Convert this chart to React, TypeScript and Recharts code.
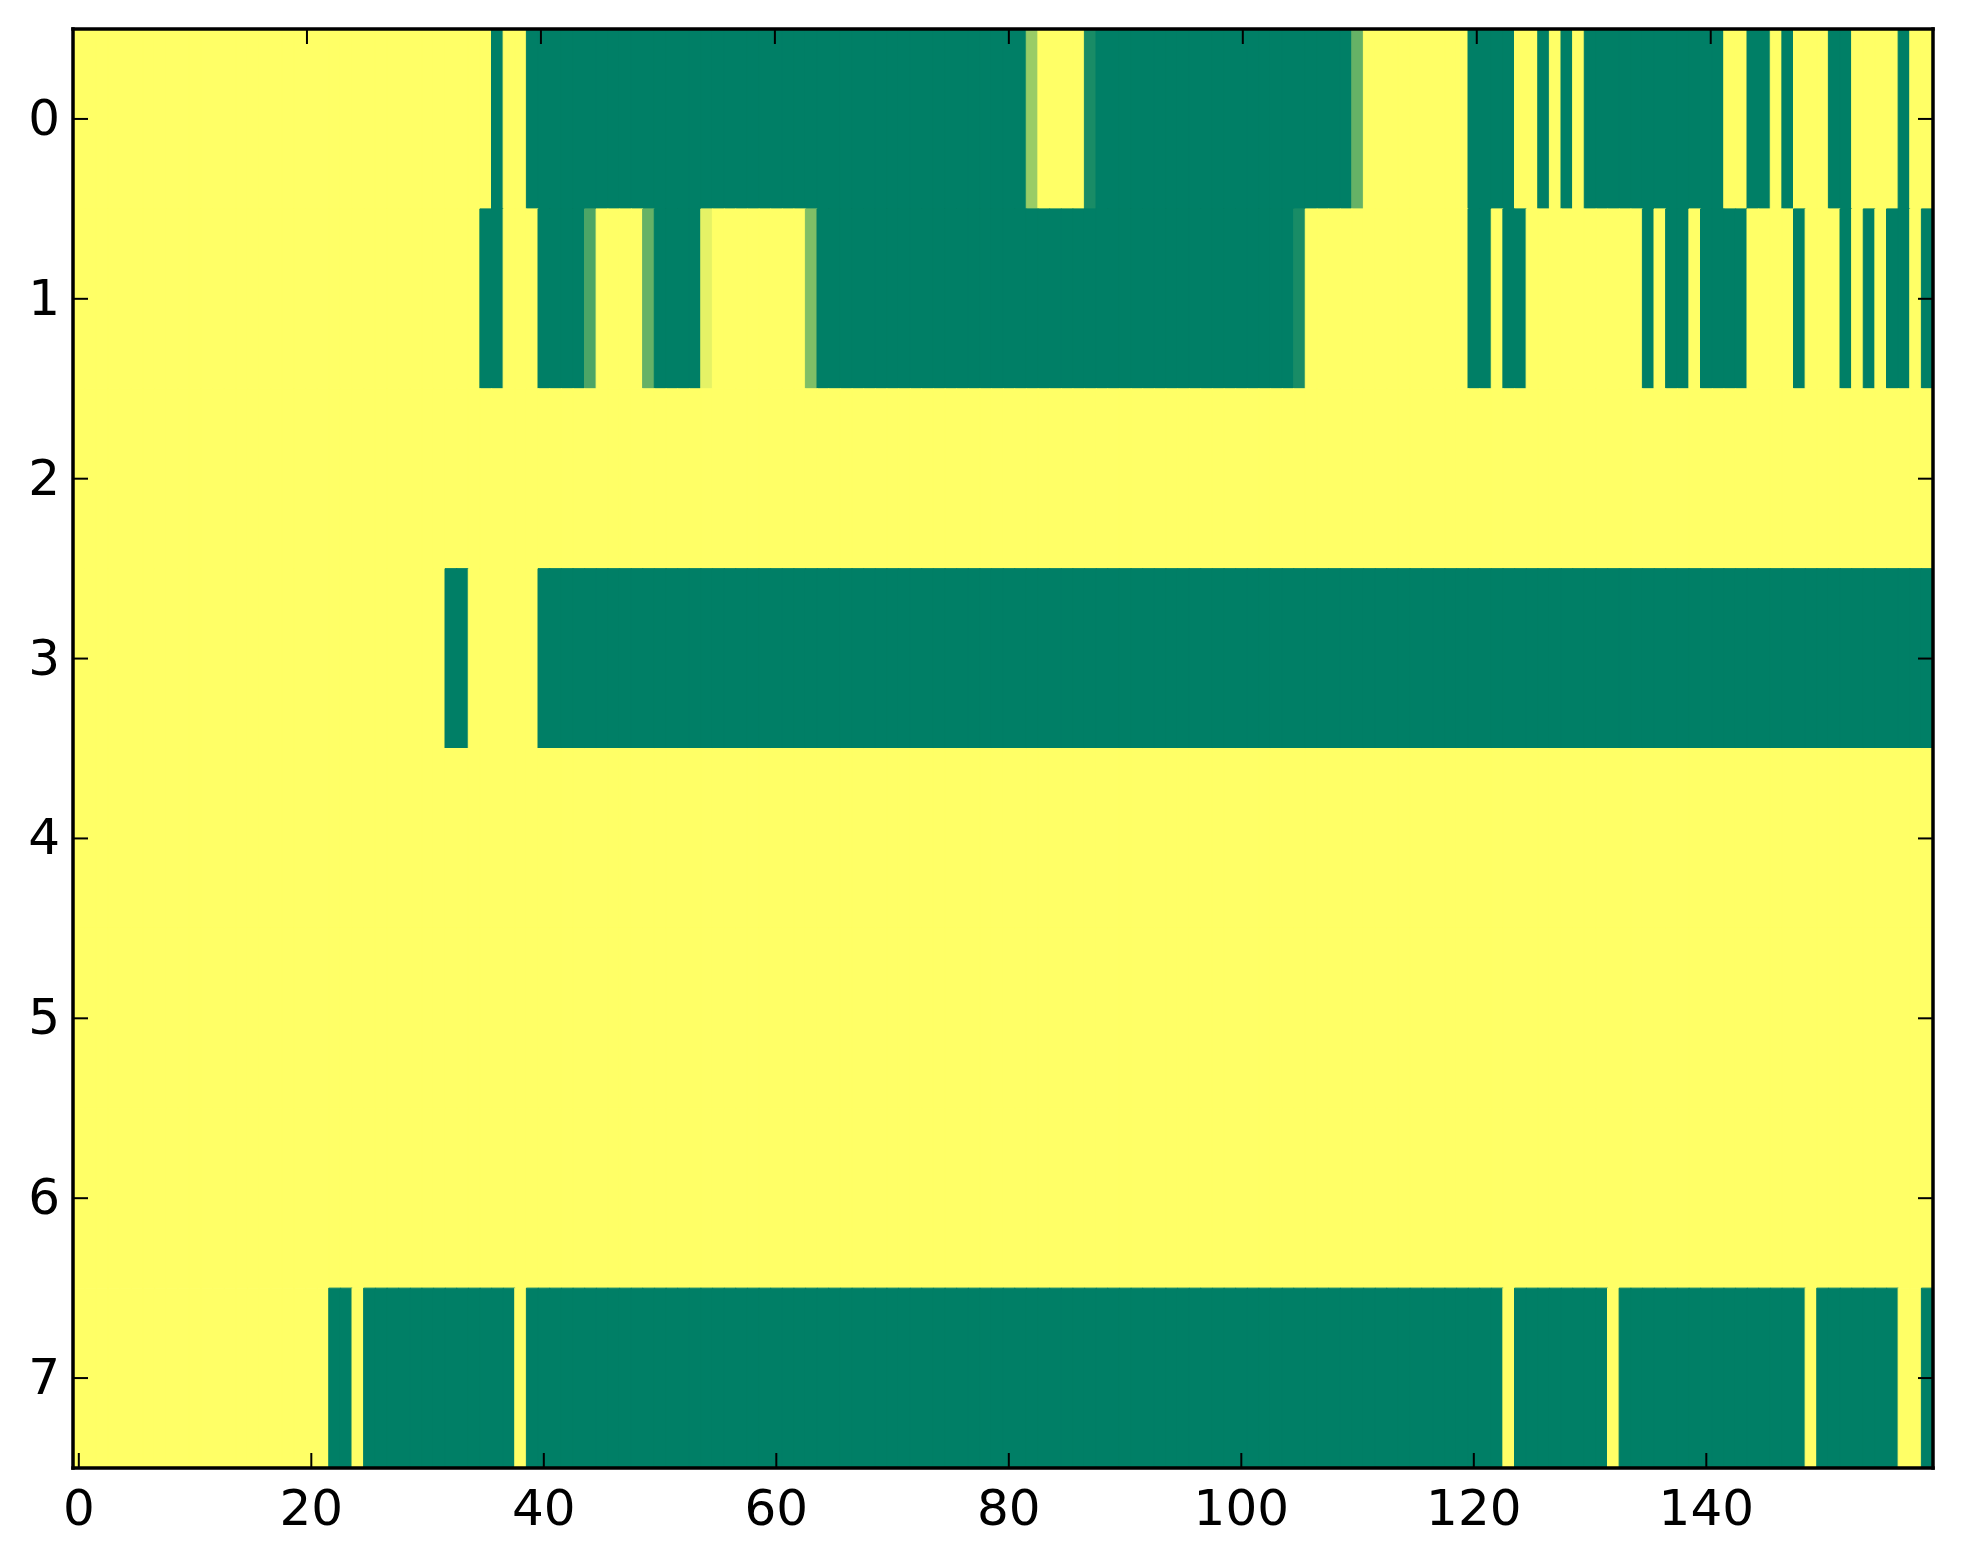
import React from 'react';
import { BarChart, Bar, XAxis, YAxis, Cell } from 'recharts';

const N_COLS = 160;
const X_TICKS = [0, 20, 40, 60, 80, 100, 120, 140];
const Y_TICKS = [0.5, 1.5, 2.5, 3.5, 4.5, 5.5, 6.5, 7.5];
const Y_LABELS = ['0', '1', '2', '3', '4', '5', '6', '7'];

// one string per row, 10 cells per group: '.' = 1 (yellow), '#' = 0 (green), digit d = d/10
const row0 = '.......... .......... .......... ......#..# ########## ########## ########## ########## ##6....1## ########## ########## 4......... ####..#.#. ########## ##..##.#.. .##....#..';
const row1 = '.......... .......... .......... .....##... ####3....4 ####9..... ...5###### ########## ########## ########## #####1.... .......... ##.##..... .....#.##. ####....#. ..#.#.##.#';
const row2 = '.......... .......... .......... .......... .......... .......... .......... .......... .......... .......... .......... .......... .......... .......... .......... ..........';
const row3 = '.......... .......... .......... ..##...... ########## ########## ########## ########## ########## ########## ########## ########## ########## ########## ########## ##########';
const row4 = '.......... .......... .......... .......... .......... .......... .......... .......... .......... .......... .......... .......... .......... .......... .......... ..........';
const row5 = '.......... .......... .......... .......... .......... .......... .......... .......... .......... .......... .......... .......... .......... .......... .......... ..........';
const row6 = '.......... .......... .......... .......... .......... .......... .......... .......... .......... .......... .......... .......... .......... .......... .......... ..........';
const row7 = '.......... .......... ..##.##### ########.# ########## ########## ########## ########## ########## ########## ########## ########## ###.###### ##.####### #########. #######..#';

const ROWS = [row0, row1, row2, row3, row4, row5, row6, row7].map((s) => s.replace(/ /g, ''));

const level = (ch: string) => (ch === '.' ? 1 : ch === '#' ? 0 : Number(ch) / 10);

// matplotlib "summer" colormap
const summer = (v: number) => {
  const r = Math.floor(255 * v);
  const g = Math.floor(255 * (0.5 + 0.5 * v));
  return `rgb(${r},${g},102)`;
};

const data = Array.from({ length: N_COLS }, (_, c) => {
  const d: Record<string, number> = { col: c };
  ROWS.forEach((_, i) => {
    d[`u${i}`] = 1;
  });
  return d;
});

const FONT = 'DejaVu Sans';
const TICK_LEN = 15;

const BottomTick = (p: any) => (
  <g>
    <line x1={p.x} x2={p.x} y1={p.y} y2={p.y - TICK_LEN} stroke="#000" strokeWidth={2} />
    <text x={p.x} y={p.y + 57} textAnchor="middle" fontSize={50} fontFamily={FONT} fill="#000">
      {p.payload.value}
    </text>
  </g>
);

const TopTick = (p: any) => (
  <line x1={p.x} x2={p.x} y1={p.y} y2={p.y + TICK_LEN} stroke="#000" strokeWidth={2} />
);

const LeftTick = (p: any) => (
  <g>
    <line x1={p.x} x2={p.x + TICK_LEN} y1={p.y} y2={p.y} stroke="#000" strokeWidth={2} />
    <text x={p.x - 13} y={p.y + 16} textAnchor="end" fontSize={50} fontFamily={FONT} fill="#000">
      {Y_LABELS[Y_TICKS.indexOf(p.payload.value)]}
    </text>
  </g>
);

const RightTick = (p: any) => (
  <line x1={p.x} x2={p.x - TICK_LEN} y1={p.y} y2={p.y} stroke="#000" strokeWidth={2} />
);

const frame = { stroke: '#000', strokeWidth: 3.5, strokeLinecap: 'square' as const };

export default function App() {
  return (
    <div style={{ position: 'absolute', left: 0, top: 0, width: 1963, height: 1564, background: '#fff' }}>
      <BarChart
        width={1963}
        height={1564}
        data={data}
        margin={{ top: 28, right: 29, bottom: 95, left: 72 }}
        barCategoryGap={0}
        barGap={0}
      >
        {ROWS.map((row, i) => (
          <Bar key={i} dataKey={`u${i}`} stackId="cells" isAnimationActive={false}>
            {data.map((_, c) => {
              const fill = summer(level(row[c]));
              return <Cell key={c} fill={fill} stroke={fill} strokeWidth={1} />;
            })}
          </Bar>
        ))}
        <XAxis
          dataKey="col"
          type="category"
          ticks={X_TICKS}
          interval={0}
          height={1}
          tickSize={0}
          tickMargin={0}
          tick={BottomTick}
          axisLine={frame}
        />
        <XAxis
          xAxisId="top"
          orientation="top"
          type="number"
          domain={[-0.5, 159.5]}
          allowDataOverflow
          ticks={X_TICKS}
          interval={0}
          height={1}
          tickSize={0}
          tickMargin={0}
          tick={TopTick}
          axisLine={frame}
        />
        <YAxis
          type="number"
          domain={[0, 8]}
          reversed
          allowDataOverflow
          ticks={Y_TICKS}
          interval={0}
          width={1}
          tickSize={0}
          tickMargin={0}
          tick={LeftTick}
          axisLine={frame}
        />
        <YAxis
          yAxisId="right"
          orientation="right"
          type="number"
          domain={[0, 8]}
          reversed
          allowDataOverflow
          ticks={Y_TICKS}
          interval={0}
          width={1}
          tickSize={0}
          tickMargin={0}
          tick={RightTick}
          axisLine={frame}
        />
      </BarChart>
    </div>
  );
}
